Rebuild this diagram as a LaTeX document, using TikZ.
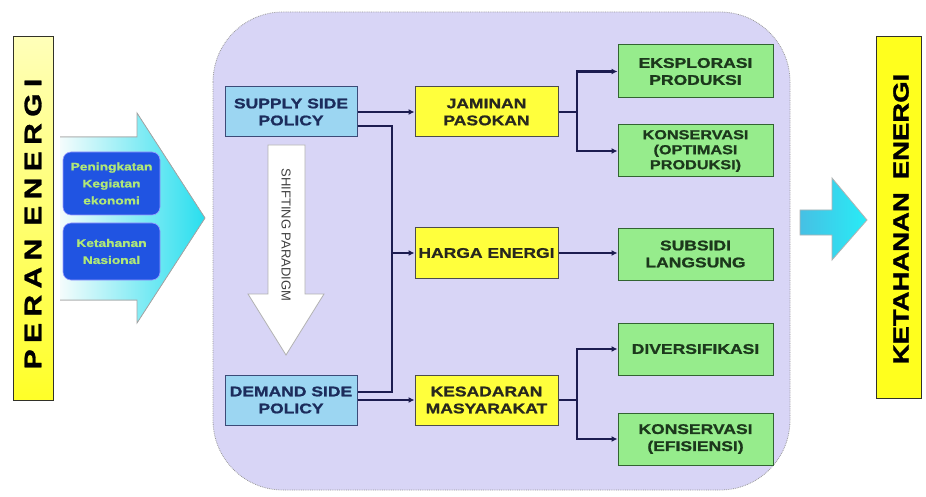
\documentclass[tikz,border=0pt]{standalone}
\usepackage{fontspec}
\setmainfont{Liberation Sans}
\newfontfamily\wide{Liberation Sans}[FakeStretch=1.25, BoldFeatures={FakeBold=1.2}]
\usetikzlibrary{arrows.meta}
\definecolor{panelc}{RGB}{216,213,246}
\definecolor{supplyc}{RGB}{156,214,242}
\definecolor{supplyb}{RGB}{60,75,120}
\definecolor{yellowc}{RGB}{255,255,60}
\definecolor{greenc}{RGB}{150,236,140}
\definecolor{greenb}{RGB}{50,100,50}
\definecolor{navy}{RGB}{28,28,80}
\definecolor{navytext}{RGB}{28,44,92}
\definecolor{darktext}{RGB}{40,40,30}
\definecolor{greentext}{RGB}{28,56,28}
\definecolor{bluebox}{RGB}{32,84,226}
\definecolor{limetext}{RGB}{176,232,120}
\definecolor{barborder}{RGB}{50,50,40}
\newcommand\lsp{\hspace{6.4pt}}
\begin{document}
\begin{tikzpicture}[x=1pt,y=-1pt,
  boxfont/.style={font=\wide\bfseries\fontsize{14}{17}\selectfont},
  sidebox/.style={draw=supplyb, line width=1pt, fill=supplyc, text=navytext,
    minimum width=132, minimum height=50, inner sep=0, align=center, boxfont},
  ybox/.style={draw=gray!60!black, line width=1pt, fill=yellowc, text=darktext,
    minimum width=143, minimum height=50, inner sep=0, align=center, boxfont},
  gbox/.style={draw=greenb, line width=1pt, fill=greenc, text=greentext,
    minimum width=155, minimum height=52, inner sep=0, align=center, boxfont},
  bbox/.style={draw=blue!40, line width=0.6pt, fill=bluebox, text=limetext, rounded corners=8,
    minimum width=97, inner sep=0, align=center,
    font=\wide\bfseries\fontsize{11}{17}\selectfont},
  conn/.style={draw=navy, line width=2.8pt},
  arr/.style={conn, -{Latex[length=6pt,width=6pt]}}
]
\useasboundingbox (0,0) rectangle (926,497);
\fill[white] (0,0) rectangle (926,497);

% left bar
\path[draw=barborder, line width=1pt, top color={rgb,255:red,255;green,255;blue,185}, bottom color={rgb,255:red,255;green,255;blue,40}] (13,37) rectangle (53,400);
\node[rotate=90, font=\wide\bfseries\fontsize{24}{24}\selectfont, inner sep=0] (peran) at (33,224)
  {P\lsp E\lsp R\lsp A\lsp N\hspace{13pt}E\lsp N\lsp E\lsp R\lsp G\lsp I};

% big left arrow
\fill[left color={rgb,255:red,244;green,252;blue,252}, right color={rgb,255:red,40;green,222;blue,238}]
  (60,137) -- (137,137) -- (137,113) -- (205,218) -- (137,323) -- (137,300) -- (60,300) -- cycle;
\draw[gray!70, line width=0.8pt] (60,137) -- (137,137) -- (137,113) -- (205,218) -- (137,323) -- (137,300) -- (60,300);

\node[bbox, minimum height=63] (pk) at (111.5,183.5) {Peningkatan\\Kegiatan\\ekonomi};
\node[bbox, minimum height=57] (kn) at (111.5,251.5) {Ketahanan\\Nasional};

% panel
\path[draw=gray!80, densely dotted, line width=0.8pt, fill=panelc, rounded corners=70] (213,12) rectangle (790,490);

% shifting paradigm arrow
\path[draw=gray!60, line width=0.8pt, fill=white]
  (268,145) -- (305,145) -- (305,294) -- (324,294) -- (286,355) -- (248,294) -- (268,294) -- cycle;
\node[rotate=-90, font=\fontsize{13}{13}\selectfont, text=gray!50!black, inner sep=0] (sp) at (286,235) {SHIFTING PARADIGM};

% boxes
\node[sidebox] (supply) at (291,112) {SUPPLY SIDE\\POLICY};
\node[sidebox] (demand) at (291,400) {DEMAND SIDE\\POLICY};
\node[ybox] (jaminan) at (486.5,112) {JAMINAN\\PASOKAN};
\node[ybox, minimum height=51] (harga) at (486.5,253) {HARGA ENERGI};
\node[ybox] (kesadaran) at (486.5,400) {KESADARAN\\MASYARAKAT};
\node[gbox, minimum height=53] (eksp) at (695.5,71.5) {EKSPLORASI\\PRODUKSI};
\node[gbox, font=\wide\bfseries\fontsize{13}{15}\selectfont] (konsopt) at (695.5,151) {KONSERVASI\\(OPTIMASI\\PRODUKSI)};
\node[gbox] (subsidi) at (695.5,254) {SUBSIDI\\LANGSUNG};
\node[gbox] (divers) at (695.5,349) {DIVERSIFIKASI};
\node[gbox] (konsef) at (695.5,439) {KONSERVASI\\(EFISIENSI)};

% connectors
\coordinate (b1) at (392,126);
\coordinate (b2) at (392,392);
\coordinate (bh) at (392,253);
\draw[arr] (supply.east) -- (jaminan.west);
\draw[conn] (supply.east |- b1) -- (b1) -- (b2) -- (demand.east |- b2);
\draw[arr] (bh) -- (harga.west);
\draw[arr] (demand.east) -- (kesadaran.west);
\coordinate (fj) at (577,112);
\coordinate (fk) at (577,400);
\draw[conn] (jaminan.east) -- (fj);
\draw[arr] (fj) |- (eksp.west);
\draw[arr] (fj) |- (konsopt.west);
\draw[arr] (harga.east) -- (subsidi.west |- harga.east);
\draw[conn] (kesadaran.east) -- (fk);
\draw[arr] (fk) |- (divers.west);
\draw[arr] (fk) |- (konsef.west);

% right arrow
\path[draw=gray!60, line width=0.8pt, left color={rgb,255:red,70;green,192;blue,228}, right color={rgb,255:red,40;green,236;blue,246}]
  (800,210) -- (832,210) -- (832,178) -- (867,220) -- (832,260) -- (832,235) -- (800,235) -- cycle;

% right bar
\path[draw=barborder, line width=1pt, fill={rgb,255:red,255;green,255;blue,30}] (876,37) rectangle (921,398);
\node[rotate=90, font=\wide\bfseries\fontsize{22}{22}\selectfont, inner sep=0] (ketahanan) at (901,219)
  {KETAHANAN\hspace{13pt}ENERGI};
\end{tikzpicture}
\end{document}
